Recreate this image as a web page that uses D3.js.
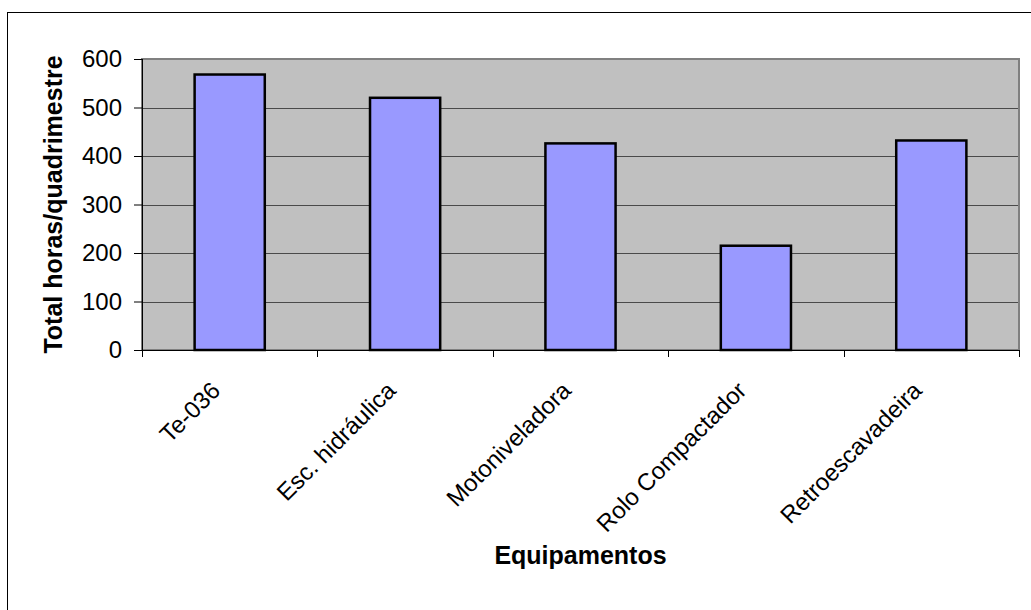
<!DOCTYPE html>
<html>
<head>
<meta charset="utf-8">
<script src="https://cdn.jsdelivr.net/npm/d3@7"></script>
<style>
  html, body { margin: 0; padding: 0; background: #fff; }
  svg { display: block; font-family: "Liberation Sans", Arial, sans-serif; }
</style>
</head>
<body>
<svg id="chart" width="1031" height="610"></svg>
<script>
// Hours per four-month period, by equipment
const categories = ["Te-036", "Esc. hidráulica", "Motoniveladora", "Rolo Compactador", "Retroescavadeira"];
const hours = [568, 520, 426, 215, 432];
const yTicks = [0, 100, 200, 300, 400, 500, 600];

const svg = d3.select("#chart");
const W = 1031, H = 610;
const plot = { left: 142, top: 59, right: 1019, bottom: 350 };
const TICK_FONT = 24;
const LABEL_FONT = 24;
const TITLE_FONT = 25;

// Outer chart frame
svg.append("rect")
  .attr("x", 7.5).attr("y", 12.5)
  .attr("width", W + 20).attr("height", H + 20)
  .attr("fill", "#fff").attr("stroke", "#000").attr("stroke-width", 1);

const x = d3.scaleBand()
  .domain(categories)
  .range([plot.left, plot.right])
  .paddingInner(0.6)
  .paddingOuter(0.3);

const y = d3.scaleLinear()
  .domain([0, 600])
  .range([plot.bottom, plot.top]);

// Plot area background
svg.append("rect")
  .attr("x", plot.left).attr("y", plot.top)
  .attr("width", plot.right - plot.left).attr("height", plot.bottom - plot.top)
  .attr("fill", "#c0c0c0");

// Horizontal gridlines
svg.append("g")
  .selectAll("line")
  .data(yTicks.filter(d => d > 0 && d < 600))
  .join("line")
  .attr("x1", plot.left).attr("x2", plot.right)
  .attr("y1", d => Math.round(y(d)) + 0.5).attr("y2", d => Math.round(y(d)) + 0.5)
  .attr("stroke", "#4a4a4a").attr("stroke-width", 1);

// Plot area border
svg.append("rect")
  .attr("x", plot.left).attr("y", plot.top)
  .attr("width", plot.right - plot.left).attr("height", plot.bottom - plot.top)
  .attr("fill", "none").attr("stroke", "#808080").attr("stroke-width", 2);

// Bars
svg.append("g")
  .selectAll("rect")
  .data(categories.map((c, i) => ({ c, v: hours[i] })))
  .join("rect")
  .attr("x", d => x(d.c))
  .attr("y", d => y(d.v))
  .attr("width", x.bandwidth())
  .attr("height", d => y(0) - y(d.v))
  .attr("fill", "#9999ff")
  .attr("stroke", "#000")
  .attr("stroke-width", 2.5);

// Y axis
const yAxis = d3.axisLeft(y)
  .tickValues(yTicks)
  .tickSize(8)
  .tickPadding(12)
  .tickSizeOuter(0);
const gy = svg.append("g")
  .attr("transform", `translate(${plot.left},0)`)
  .call(yAxis);
gy.select(".domain").attr("stroke", "#000").attr("stroke-width", 1)
  .attr("d", `M0.5,${plot.top}V${plot.bottom + 7}`);
gy.selectAll(".tick line").attr("stroke", "#000");
gy.selectAll(".tick text")
  .attr("font-size", TICK_FONT).attr("fill", "#000")
  .attr("font-family", "Liberation Sans, Arial, sans-serif");

// X axis line with ticks at category boundaries
const boundaries = d3.range(categories.length + 1).map(i => plot.left + i * (plot.right - plot.left) / categories.length);
svg.append("line")
  .attr("x1", plot.left - 8).attr("x2", plot.right)
  .attr("y1", plot.bottom + 0.5).attr("y2", plot.bottom + 0.5)
  .attr("stroke", "#000");
svg.append("g")
  .selectAll("line")
  .data(boundaries.slice(1))
  .join("line")
  .attr("x1", d => Math.round(d) + 0.5).attr("x2", d => Math.round(d) + 0.5)
  .attr("y1", plot.bottom).attr("y2", plot.bottom + 7)
  .attr("stroke", "#000");

// Category labels, rotated
svg.append("g")
  .selectAll("text")
  .data(categories)
  .join("text")
  .attr("transform", d => `translate(${x(d) + x.bandwidth() / 2 - 8},${plot.bottom + 42}) rotate(-45)`)
  .attr("text-anchor", "end")
  .attr("font-size", LABEL_FONT)
  .attr("fill", "#000")
  .text(d => d);

// Axis titles
svg.append("text")
  .attr("x", (plot.left + plot.right) / 2)
  .attr("y", 564)
  .attr("text-anchor", "middle")
  .attr("font-size", TITLE_FONT)
  .attr("font-weight", "bold")
  .text("Equipamentos");

svg.append("text")
  .attr("transform", `translate(62,${(plot.top + plot.bottom) / 2}) rotate(-90)`)
  .attr("text-anchor", "middle")
  .attr("font-size", TITLE_FONT)
  .attr("font-weight", "bold")
  .text("Total horas/quadrimestre");
</script>
</body>
</html>
